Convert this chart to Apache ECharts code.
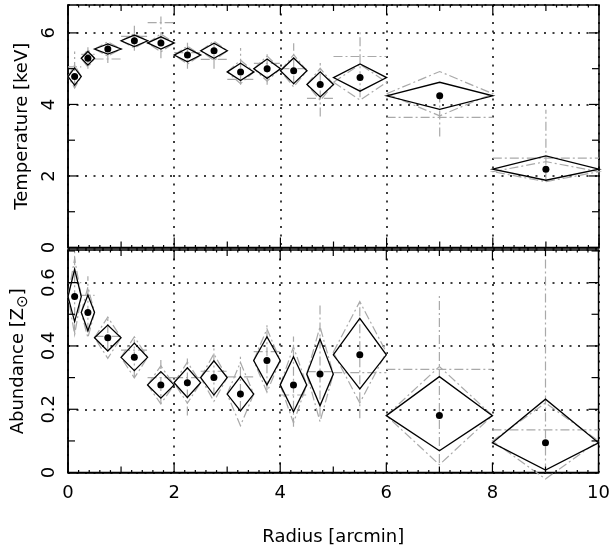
<!DOCTYPE html>
<html>
<head>
<meta charset="utf-8">
<script src="https://cdn.jsdelivr.net/npm/echarts@6/dist/echarts.min.js"></script>
<style>
  html, body { margin: 0; padding: 0; background: #fff; }
  #chart { width: 613px; height: 553px; }
</style>
</head>
<body>
<div id="chart"></div>
<script>
// Annular bins: centre radius and half width [arcmin]
const radius    = [0.125, 0.375, 0.75, 1.25, 1.75, 2.25, 2.75, 3.25, 3.75, 4.25, 4.75, 5.5, 7, 9];
const halfWidth = [0.125, 0.125, 0.25, 0.25, 0.25, 0.25, 0.25, 0.25, 0.25, 0.25, 0.25, 0.5, 1, 1];

// Temperature [keV], best fit with lower / upper errors
const temp       = [4.78, 5.29, 5.55, 5.78, 5.72, 5.38, 5.50, 4.91, 5.00, 4.94, 4.56, 4.75, 4.24, 2.19];
const tempErrLo  = [0.24, 0.19, 0.14, 0.16, 0.17, 0.19, 0.21, 0.24, 0.27, 0.36, 0.35, 0.38, 0.38, 0.31];
const tempErrHi  = [0.24, 0.19, 0.14, 0.16, 0.17, 0.19, 0.21, 0.24, 0.27, 0.36, 0.35, 0.38, 0.38, 0.37];
// Temperature, alternative fit (grey diamonds)
const tempGrey    = [4.78, 5.29, 5.55, 5.78, 5.72, 5.38, 5.50, 4.91, 5.00, 4.94, 4.56, 4.62, 4.30, 2.12];
const tempGreyErr = [0.32, 0.25, 0.20, 0.20, 0.25, 0.25, 0.27, 0.33, 0.35, 0.45, 0.45, 0.50, 0.62, 0.28];
// Temperature, projected values (grey crosses)
const tempAlt   = [5.05, 5.40, 5.27, 5.90, 6.29, 5.45, 5.26, 4.70, 5.15, 5.00, 4.17, 5.34, 3.64, 2.50];
const tempAltLo = [4.46, 5.00, 5.16, 5.50, 5.29, 5.00, 5.00, 4.55, 4.55, 4.55, 3.66, 4.20, 3.10, 1.84];
const tempAltHi = [5.48, 5.60, 5.72, 6.20, 6.46, 5.80, 5.80, 5.58, 5.40, 5.71, 5.16, 6.10, 4.20, 3.85];

// Abundance [solar], best fit with lower / upper errors
const abund      = [0.556, 0.506, 0.426, 0.364, 0.277, 0.284, 0.300, 0.248, 0.354, 0.277, 0.311, 0.372, 0.180, 0.094];
const abundErrLo = [0.079, 0.058, 0.042, 0.042, 0.042, 0.047, 0.055, 0.053, 0.077, 0.085, 0.100, 0.108, 0.111, 0.086];
const abundErrHi = [0.086, 0.055, 0.040, 0.045, 0.042, 0.047, 0.053, 0.055, 0.075, 0.089, 0.111, 0.115, 0.123, 0.138];
// Abundance, alternative fit (grey diamonds)
const abundGrey    = [0.556, 0.506, 0.426, 0.364, 0.277, 0.284, 0.300, 0.248, 0.354, 0.277, 0.311, 0.380, 0.180, 0.100];
const abundGreyErr = [0.120, 0.080, 0.065, 0.065, 0.060, 0.065, 0.075, 0.100, 0.100, 0.120, 0.150, 0.160, 0.155, 0.120];
// Abundance, projected values (grey crosses)
const abundAlt   = [0.600, 0.560, 0.430, 0.387, 0.300, 0.300, 0.320, 0.302, 0.382, 0.245, 0.319, 0.316, 0.326, 0.135];
const abundAltLo = [0.440, 0.445, 0.387, 0.300, 0.220, 0.180, 0.240, 0.198, 0.260, 0.145, 0.177, 0.172, 0.030, 0.000];
const abundAltHi = [0.700, 0.620, 0.490, 0.420, 0.360, 0.360, 0.398, 0.366, 0.466, 0.430, 0.535, 0.543, 0.561, 0.700];

// Axis ranges and tick steps: [labelled, minor, fine]
const xRange = { min: 0, max: 10 };
const xSteps = [2, 1, 0.2];
const tempRange = { min: 0, max: 6.78 };
const tempSteps = [2, 1];
const abundRange = { min: 0, max: 0.703 };
const abundSteps = [0.2, 0.1];

const FONT = 'DejaVu Sans';
const GREY = '#a9a9a9';
const DASHDOT = [9, 3, 2, 3];
const X_TICK_LEN = [10, 6, 2.5];
const Y_TICK_LEN = [10, 7];

function rows(val, lo, hi) {
  return radius.map((r, i) => [r, halfWidth[i], val[i], lo[i], hi[i]]);
}

function diamond(stroke, width, dash) {
  return function (params, api) {
    const x = api.value(0), hw = api.value(1), y = api.value(2);
    const lo = api.value(3), hi = api.value(4);
    const pts = [
      api.coord([x - hw, y]), api.coord([x, y + hi]),
      api.coord([x + hw, y]), api.coord([x, y - lo])
    ];
    return {
      type: 'polygon', shape: { points: pts },
      style: { fill: 'none', stroke: stroke, lineWidth: width, lineDash: dash || null }
    };
  };
}

function cross(params, api) {
  const x = api.value(0), hw = api.value(1), y = api.value(2);
  const lo = api.value(3), hi = api.value(4);
  const a = api.coord([x - hw, y]), b = api.coord([x + hw, y]);
  const c = api.coord([x, lo]), d = api.coord([x, hi]);
  const st = { stroke: GREY, lineWidth: 1.2, lineDash: DASHDOT, fill: 'none' };
  return {
    type: 'group',
    children: [
      { type: 'line', shape: { x1: a[0], y1: a[1], x2: b[0], y2: b[1] }, style: st },
      { type: 'line', shape: { x1: c[0], y1: c[1], x2: d[0], y2: d[1] }, style: st }
    ]
  };
}

// Tick positions for each level; a finer level skips values of a coarser one.
function tickValues(range, steps) {
  const out = [];
  steps.forEach((step, k) => {
    const n = Math.floor((range.max - range.min) / step + 1e-9);
    for (let i = 0; i <= n; i++) {
      const v = +(range.min + i * step).toFixed(6);
      const coarser = steps.slice(0, k).some(s => Math.abs(v / s - Math.round(v / s)) < 1e-6);
      if (!coarser) out.push([v, k]);
    }
  });
  return out;
}

// Inward ticks on all four sides of a panel: each item is [x, y, length, side]
// anchored on the frame, placed through the panel's own scales.
function tickSeries(xi, yi, yRange, ySteps) {
  const data = [];
  tickValues(xRange, xSteps).forEach(([v, k]) => {
    data.push([v, yRange.min, X_TICK_LEN[k], 0]);
    data.push([v, yRange.max, X_TICK_LEN[k], 1]);
  });
  tickValues(yRange, ySteps).forEach(([v, k]) => {
    data.push([xRange.min, v, Y_TICK_LEN[k], 2]);
    data.push([xRange.max, v, Y_TICK_LEN[k], 3]);
  });
  return {
    type: 'custom', xAxisIndex: xi, yAxisIndex: yi, z: 6, silent: true,
    encode: { x: 0, y: 1 },
    data,
    renderItem: function (params, api) {
      const p = api.coord([api.value(0), api.value(1)]);
      const len = api.value(2), side = api.value(3);
      const dx = side === 2 ? len : side === 3 ? -len : 0;
      const dy = side === 0 ? -len : side === 1 ? len : 0;
      return {
        type: 'group',
        children: [{
          type: 'line', shape: { x1: p[0], y1: p[1], x2: p[0] + dx, y2: p[1] + dy },
          style: { stroke: '#000', lineWidth: 1.2, fill: 'none' }
        }]
      };
    }
  };
}

const dotted = { show: true, lineStyle: { color: '#000', type: [2, 6.5], width: 1.5 } };
const labelFont = { color: '#000', fontFamily: FONT, fontSize: 18 };
const axisLine = { show: true, lineStyle: { color: '#000', width: 1.5 } };

const xAxes = [
  { type: 'value', gridIndex: 0, position: 'bottom', ...xRange, interval: xSteps[0],
    axisLine, axisTick: { show: false }, splitLine: dotted, axisLabel: { show: false } },
  { type: 'value', gridIndex: 1, position: 'bottom', ...xRange, interval: xSteps[0],
    axisLine, axisTick: { show: false }, splitLine: dotted,
    axisLabel: { ...labelFont, margin: 12 },
    name: 'Radius [arcmin]', nameLocation: 'middle', nameGap: 56,
    nameTextStyle: { ...labelFont } }
];

const yAxes = [
  { type: 'value', gridIndex: 0, position: 'left', ...tempRange, interval: tempSteps[0],
    axisLine, axisTick: { show: false }, splitLine: dotted,
    axisLabel: { ...labelFont, rotate: 90, margin: 10, showMaxLabel: false, formatter: v => String(v) },
    name: 'Temperature [keV]', nameLocation: 'middle', nameGap: 37, nameRotate: 90,
    nameTextStyle: { ...labelFont } },
  { type: 'value', gridIndex: 1, position: 'left', ...abundRange, interval: abundSteps[0],
    axisLine, axisTick: { show: false }, splitLine: dotted,
    axisLabel: { ...labelFont, rotate: 90, margin: 10, showMaxLabel: false,
      formatter: v => (v === 0 ? '0' : v.toFixed(1)) },
    name: 'Abundance [Z{sub|⊙}]', nameLocation: 'middle', nameGap: 37, nameRotate: 90,
    nameTextStyle: { ...labelFont,
      rich: { sub: { fontFamily: FONT, fontSize: 15, color: '#000', padding: [10, 0, 0, 0] } } } }
];

function panelSeries(xi, yi, val, lo, hi, gVal, gErr, aVal, aLo, aHi) {
  return [
    { type: 'custom', xAxisIndex: xi, yAxisIndex: yi, renderItem: cross,
      data: rows(aVal, aLo, aHi), z: 2 },
    { type: 'custom', xAxisIndex: xi, yAxisIndex: yi, renderItem: diamond(GREY, 1.2, DASHDOT),
      data: rows(gVal, gErr, gErr), z: 3 },
    { type: 'custom', xAxisIndex: xi, yAxisIndex: yi, renderItem: diamond('#000', 1.3),
      data: rows(val, lo, hi), z: 4 },
    { type: 'scatter', xAxisIndex: xi, yAxisIndex: yi, symbol: 'circle', symbolSize: 7,
      itemStyle: { color: '#000', opacity: 1 }, data: radius.map((r, i) => [r, val[i]]), z: 5 }
  ];
}

const chart = echarts.init(document.getElementById('chart'), null, { renderer: 'canvas' });

chart.setOption({
  animation: false,
  backgroundColor: '#fff',
  grid: [
    { left: 68, top: 5, width: 531, height: 242.5, show: true, borderColor: '#000', borderWidth: 1.5 },
    { left: 68, top: 250, width: 531, height: 222.6, show: true, borderColor: '#000', borderWidth: 1.5 }
  ],
  xAxis: xAxes,
  yAxis: yAxes,
  series: [
    ...panelSeries(0, 0, temp, tempErrLo, tempErrHi, tempGrey, tempGreyErr, tempAlt, tempAltLo, tempAltHi),
    ...panelSeries(1, 1, abund, abundErrLo, abundErrHi, abundGrey, abundGreyErr, abundAlt, abundAltLo, abundAltHi),
    tickSeries(0, 0, tempRange, tempSteps),
    tickSeries(1, 1, abundRange, abundSteps)
  ]
});
</script>
</body>
</html>
